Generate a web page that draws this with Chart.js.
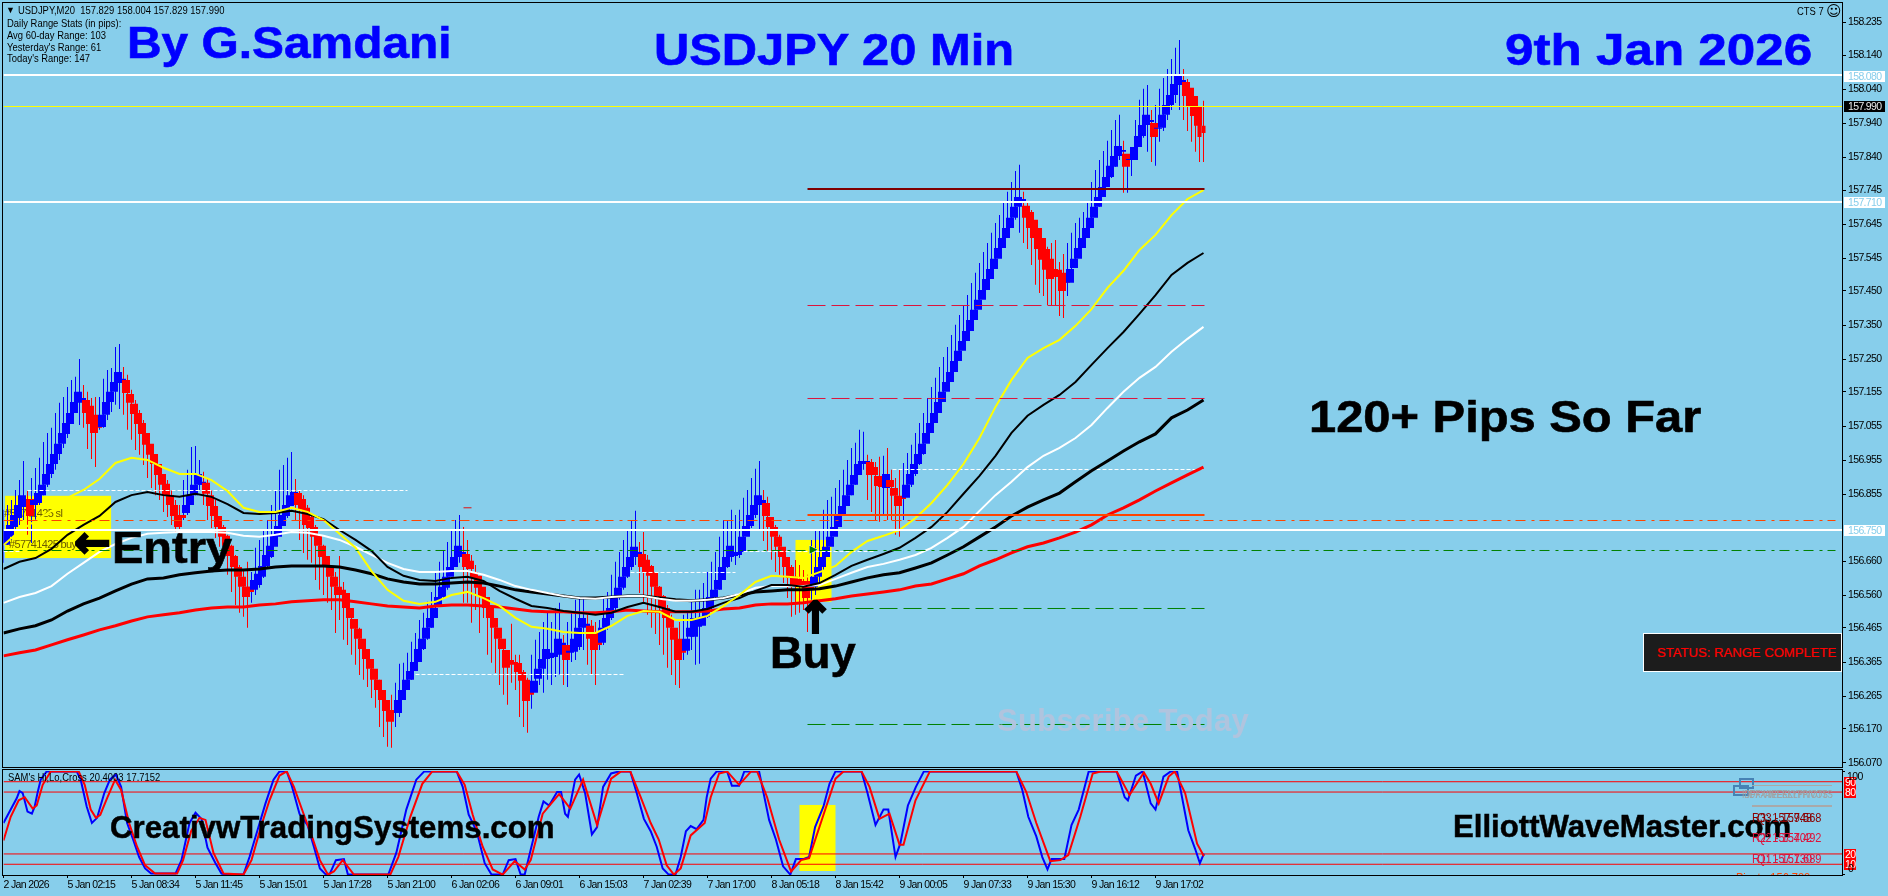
<!DOCTYPE html>
<html>
<head>
<meta charset="utf-8">
<title>USDJPY 20 Min</title>
<script src="https://cdn.jsdelivr.net/npm/chart.js@4/dist/chart.umd.min.js"></script>
<style>
  html, body { margin: 0; padding: 0; background: #87ceeb; }
  #page { position: relative; width: 1888px; height: 896px; overflow: hidden; background: #87ceeb; }
  canvas { position: absolute; left: 0; }
  #mainChart { top: 0; }
  #subChart { top: 768px; }
  .t { position: absolute; white-space: pre; line-height: 1; font-family: "Liberation Sans", Arial, sans-serif; transform-origin: left center; }
  .big { font-weight: 700; font-size: 44px; -webkit-text-stroke: .6px currentColor; }
  .blue { color: #0000ff; }
  .mid { font-weight: 700; font-size: 31px; color: #000; -webkit-text-stroke: .5px currentColor; }
  .small { font-size: 11.5px; color: #000; transform: scaleX(.82); }
  .piv { font-size: 12px; transform: scaleX(.92); }
  .box { position: absolute; box-sizing: border-box; }
</style>
</head>
<body>
<div id="page">
  <canvas id="mainChart" width="1888" height="769"></canvas>
  <canvas id="subChart" width="1888" height="128"></canvas>

  <div class="t small" style="left:6px;top:6px;font-size:9px;transform:none">▼</div>
  <div class="t small" style="left:18px;top:5px">USDJPY,M20  157.829 158.004 157.829 157.990</div>
  <div class="t small" style="left:7px;top:18px">Daily Range Stats (in pips):</div>
  <div class="t small" style="left:7px;top:30px">Avg 60-day Range: 103</div>
  <div class="t small" style="left:7px;top:42px">Yesterday's Range: 61</div>
  <div class="t small" style="left:7px;top:53px">Today's Range: 147</div>
  <div class="t small" style="left:1797px;top:6px">CTS 7</div>
  <div class="t" style="left:1826px;top:4px;font-family:'DejaVu Sans';font-size:15px">☺</div>

  <div class="t big blue" style="left:127px;top:21px;transform:scaleX(1.088)">By G.Samdani</div>
  <div class="t big blue" style="left:654px;top:28px;transform:scaleX(1.11)">USDJPY 20 Min</div>
  <div class="t big blue" style="left:1505px;top:28px;transform:scaleX(1.163)">9th Jan 2026</div>
  <div class="t big" style="left:1309px;top:395px;transform:scaleX(1.11);color:#000">120+ Pips So Far</div>
  <div class="t big" style="left:112px;top:526px;transform:scaleX(1.067);color:#000">Entry</div>
  <div class="t big" style="left:74px;top:520px;color:#000;font-family:'DejaVu Sans';-webkit-text-stroke:2px #000">←</div>
  <div class="t big" style="left:770px;top:631px;transform:scaleX(1.03);color:#000">Buy</div>
  <div class="t big" style="left:797px;top:596px;color:#000;font-family:'DejaVu Sans';-webkit-text-stroke:2px #000">↑</div>
  <div class="t mid" style="left:997px;top:705px;color:#b0c4de;letter-spacing:.3px;-webkit-text-stroke:0">Subscribe Today</div>

  <div class="box" style="left:1643px;top:633px;width:199px;height:39px;background:#1c1c1c;border:1px solid #fff"></div>
  <div class="t" style="left:1657px;top:646px;font-size:13.1px;color:#ff0000;-webkit-text-stroke:.2px #ff0000">STATUS: RANGE COMPLETE</div>

  <div class="t mid" style="left:110px;top:812px;transform:scaleX(1.008)">CreativwTradingSystems.com</div>
  <div class="t mid" style="left:1453px;top:811px;transform:scaleX(1.005)">ElliottWaveMaster.com</div>
  <div class="t small" style="left:8px;top:772px">SAM's Hi,Lo,Cross 20.4003 17.7152</div>

  <div class="box" style="left:1739px;top:778px;width:15px;height:11px;border:2px solid #4682b4"></div>
  <div class="box" style="left:1733px;top:785px;width:16px;height:11px;border:2px solid #4682b4"></div>
  <div class="box" style="left:1752px;top:785px;width:80px;height:1px;background:#a9a9a9"></div>
  <div class="box" style="left:1752px;top:805px;width:80px;height:2px;background:#a9a9a9"></div>
  <div class="t small" style="left:1742px;top:789px;color:#a0a0a0;transform:scaleX(.72)">IDFX-WEEKLYPIVOTS</div>
  <div class="t small" style="left:1747px;top:789px;color:#a0a0a0;transform:scaleX(.72)">IDFX-WEEKLYPIVOTS</div>
  <div class="t piv" style="left:1752px;top:812px;color:#8b0000">R3: 157.948</div>
  <div class="t piv" style="left:1757px;top:812px;color:#8b0000">Q3 - 157.568</div>
  <div class="t piv" style="left:1752px;top:832px;color:#dc143c">R2: 157.402</div>
  <div class="t piv" style="left:1757px;top:832px;color:#dc143c">Q2 - 157.492</div>
  <div class="t piv" style="left:1752px;top:853px;color:#dc143c">R1: 157.130</div>
  <div class="t piv" style="left:1757px;top:853px;color:#dc143c">Q1 - 157.689</div>
  <div class="box" style="left:1730px;top:871px;width:100px;height:4px;overflow:hidden">
    <div class="t piv" style="left:6px;top:1px;color:#ff4500">Pivot - 156.788</div>
  </div>
</div>

<script>
// price axis labels
const priceTicks = [158.235, 158.140, 158.040, 157.940, 157.840, 157.745, 157.645, 157.545, 157.450, 157.350, 157.250,
  157.155, 157.055, 156.955, 156.855, 156.660, 156.560, 156.465, 156.365, 156.265, 156.170, 156.070];

const timeLabels = ['2 Jan 2026', '5 Jan 02:15', '5 Jan 08:34', '5 Jan 11:45', '5 Jan 15:01', '5 Jan 17:28', '5 Jan 21:00',
  '6 Jan 02:06', '6 Jan 09:01', '6 Jan 15:03', '7 Jan 02:39', '7 Jan 17:00', '8 Jan 05:18', '8 Jan 15:42', '9 Jan 00:05',
  '9 Jan 07:33', '9 Jan 15:30', '9 Jan 16:12', '9 Jan 17:02'];

// candles, one entry per 20 min bar
const barOpen = [
  156.708,156.731,156.760,156.786,156.818,156.821,156.842,156.824,156.830,156.853,
  156.883,156.915,156.944,156.973,157.003,157.032,157.061,157.093,157.125,157.123,
  157.131,157.114,157.088,157.061,157.052,157.088,157.125,157.155,157.184,157.181,
  157.190,157.149,157.120,157.093,157.064,157.035,157.003,156.973,156.944,156.915,
  156.886,156.853,156.824,156.792,156.795,156.801,156.824,156.853,156.883,156.883,
  156.889,156.853,156.821,156.792,156.760,156.734,156.705,156.675,156.643,156.614,
  156.585,156.585,156.576,156.590,156.614,156.646,156.672,156.702,156.731,156.763,
  156.792,156.821,156.851,156.859,156.842,156.816,156.789,156.760,156.734,156.705,
  156.675,156.643,156.614,156.585,156.576,156.567,156.523,156.491,156.462,156.433,
  156.403,156.374,156.345,156.313,156.283,156.254,156.222,156.225,156.216,156.254,
  156.283,156.313,156.339,156.365,156.403,156.433,156.465,156.494,156.529,156.555,
  156.582,156.614,156.643,156.672,156.672,156.681,156.661,156.628,156.617,156.585,
  156.555,156.523,156.494,156.465,156.433,156.400,156.371,156.365,156.362,156.336,
  156.313,156.280,156.275,156.316,156.345,156.374,156.377,156.380,156.386,156.415,
  156.415,156.392,156.395,156.409,156.465,156.468,156.471,156.453,156.427,156.421,
  156.465,156.494,156.523,156.555,156.582,156.614,156.643,156.672,156.672,156.681,
  156.664,156.646,156.628,156.585,156.558,156.523,156.494,156.465,156.433,156.403,
  156.398,156.439,156.439,156.468,156.471,156.497,156.523,156.555,156.576,156.605,
  156.643,156.672,156.675,156.678,156.687,156.731,156.763,156.795,156.824,156.824,
  156.830,156.789,156.760,156.731,156.702,156.672,156.643,156.614,156.608,156.602,
  156.602,156.585,156.585,156.614,156.643,156.672,156.702,156.731,156.760,156.792,
  156.821,156.853,156.883,156.912,156.944,156.944,156.950,156.935,156.909,156.880,
  156.874,156.897,156.874,156.851,156.848,156.845,156.883,156.915,156.944,156.973,
  157.003,157.035,157.064,157.093,157.125,157.155,157.184,157.213,157.245,157.275,
  157.304,157.333,157.365,157.395,157.424,157.453,157.485,157.514,157.544,157.576,
  157.605,157.634,157.664,157.696,157.707,157.699,157.681,157.658,157.634,157.605,
  157.573,157.544,157.514,157.512,157.503,157.476,157.474,157.517,157.544,157.576,
  157.605,157.634,157.664,157.696,157.725,157.754,157.783,157.813,157.845,157.857,
  157.851,157.833,157.833,157.871,157.903,157.935,157.944,157.941,157.924,157.927,
  157.965,157.994,158.023,158.055,158.052,158.061,158.044,158.020,157.991,157.962,
  157.933];

const barClose = [
  156.751,156.766,156.795,156.824,156.853,156.839,156.792,156.839,156.859,156.883,
  156.915,156.944,156.973,157.003,157.035,157.064,157.093,157.125,157.155,157.137,
  157.093,157.061,157.035,157.050,157.088,157.125,157.155,157.184,157.213,157.193,
  157.152,157.123,157.090,157.061,157.032,157.000,156.971,156.944,156.912,156.883,
  156.851,156.824,156.792,156.760,156.786,156.824,156.853,156.883,156.915,156.892,
  156.857,156.821,156.792,156.760,156.731,156.705,156.675,156.643,156.614,156.585,
  156.555,156.570,156.605,156.623,156.646,156.678,156.705,156.734,156.763,156.795,
  156.824,156.853,156.862,156.824,156.810,156.766,156.757,156.731,156.705,156.672,
  156.643,156.614,156.585,156.561,156.561,156.523,156.494,156.462,156.433,156.403,
  156.374,156.345,156.313,156.283,156.254,156.222,156.190,156.216,156.254,156.283,
  156.313,156.339,156.365,156.403,156.433,156.465,156.494,156.523,156.555,156.585,
  156.614,156.643,156.672,156.705,156.687,156.643,156.637,156.611,156.582,156.555,
  156.523,156.494,156.465,156.433,156.403,156.348,156.357,156.362,156.336,156.310,
  156.251,156.269,156.310,156.345,156.374,156.403,156.386,156.392,156.433,156.421,
  156.371,156.398,156.433,156.465,156.494,156.477,156.433,156.400,156.415,156.465,
  156.494,156.523,156.555,156.582,156.614,156.643,156.672,156.702,156.687,156.643,
  156.628,156.617,156.585,156.558,156.523,156.494,156.465,156.430,156.371,156.392,
  156.433,156.465,156.494,156.477,156.497,156.523,156.555,156.576,156.605,156.643,
  156.672,156.705,156.684,156.687,156.731,156.763,156.795,156.824,156.853,156.839,
  156.792,156.760,156.731,156.702,156.672,156.643,156.611,156.590,156.590,156.587,
  156.552,156.579,156.614,156.643,156.672,156.702,156.731,156.760,156.792,156.821,
  156.853,156.883,156.912,156.944,156.953,156.953,156.912,156.912,156.880,156.877,
  156.915,156.877,156.851,156.821,156.842,156.883,156.915,156.944,156.973,157.003,
  157.035,157.064,157.093,157.125,157.155,157.184,157.213,157.245,157.275,157.304,
  157.333,157.365,157.395,157.424,157.453,157.485,157.514,157.544,157.576,157.605,
  157.634,157.664,157.696,157.725,157.719,157.664,157.634,157.605,157.573,157.541,
  157.512,157.485,157.503,157.491,157.450,157.474,157.514,157.544,157.576,157.605,
  157.634,157.664,157.696,157.725,157.754,157.783,157.816,157.845,157.874,157.862,
  157.813,157.836,157.871,157.903,157.935,157.965,157.950,157.900,157.927,157.965,
  157.994,158.023,158.055,158.079,158.067,158.020,157.991,157.962,157.933,157.900,
  157.912];

const barHigh = [
  156.810,156.824,156.839,156.868,156.897,156.953,156.865,156.903,156.932,156.962,
  157.008,157.035,157.050,157.093,157.123,157.140,157.169,157.190,157.199,157.251,
  157.175,157.155,157.137,157.140,157.140,157.193,157.219,157.225,157.286,157.295,
  157.228,157.205,157.161,157.131,157.102,157.073,157.029,157.000,156.971,156.941,
  156.912,156.897,156.868,156.839,156.824,156.897,156.927,156.994,156.997,156.956,
  156.921,156.903,156.868,156.839,156.780,156.766,156.737,156.708,156.678,156.649,
  156.634,156.658,156.628,156.699,156.722,156.751,156.780,156.824,156.868,156.927,
  156.941,156.962,156.979,156.900,156.868,156.853,156.824,156.795,156.766,156.737,
  156.708,156.669,156.649,156.628,156.675,156.599,156.547,156.517,156.488,156.465,
  156.430,156.400,156.371,156.342,156.313,156.283,156.254,156.269,156.304,156.360,
  156.363,156.392,156.424,156.450,156.488,156.509,156.541,156.570,156.626,156.658,
  156.690,156.716,156.748,156.780,156.795,156.760,156.722,156.678,156.649,156.611,
  156.576,156.547,156.517,156.488,156.453,156.430,156.400,156.477,156.386,156.386,
  156.342,156.319,156.386,156.430,156.453,156.482,156.511,156.482,156.523,156.538,
  156.444,156.482,156.509,156.547,156.552,156.552,156.503,156.488,156.482,156.488,
  156.552,156.570,156.620,156.658,156.687,156.722,156.751,156.780,156.807,156.716,
  156.745,156.678,156.649,156.614,156.587,156.561,156.532,156.503,156.459,156.482,
  156.503,156.509,156.547,156.576,156.576,156.596,156.628,156.658,156.687,156.731,
  156.780,156.780,156.810,156.795,156.810,156.845,156.868,156.903,156.930,156.953,
  156.868,156.848,156.786,156.766,156.737,156.699,156.669,156.649,156.663,156.649,
  156.634,156.620,156.722,156.751,156.751,156.810,156.839,156.848,156.874,156.897,
  156.927,156.956,156.991,157.006,157.044,157.038,156.971,156.959,156.950,156.965,
  156.968,156.991,156.927,156.903,156.927,156.947,156.976,157.000,157.035,157.064,
  157.093,157.137,157.169,157.196,157.228,157.257,157.286,157.321,157.351,157.380,
  157.409,157.438,157.473,157.503,157.532,157.564,157.590,157.620,157.649,157.672,
  157.710,157.740,157.769,157.801,157.819,157.740,157.707,157.687,157.652,157.628,
  157.590,157.579,157.590,157.599,157.535,157.558,157.590,157.620,157.649,157.664,
  157.681,157.707,157.769,157.804,157.833,157.859,157.889,157.921,157.950,157.965,
  157.889,157.840,157.871,157.950,158.009,158.041,158.052,157.979,157.994,158.041,
  158.073,158.099,158.128,158.161,158.184,158.099,158.070,158.041,158.009,157.979,
  158.006];

const barLow = [
  156.655,156.707,156.722,156.751,156.766,156.780,156.737,156.713,156.780,156.824,
  156.853,156.877,156.903,156.927,156.956,156.991,157.020,157.061,157.096,157.058,
  157.050,156.988,156.959,156.935,157.044,157.050,157.073,157.096,157.117,157.105,
  157.088,157.044,157.015,156.985,156.971,156.941,156.903,156.874,156.853,156.839,
  156.804,156.789,156.766,156.743,156.731,156.780,156.795,156.824,156.853,156.868,
  156.824,156.780,156.757,156.728,156.702,156.678,156.620,156.570,156.532,156.509,
  156.497,156.465,156.538,156.561,156.582,156.611,156.640,156.669,156.708,156.737,
  156.766,156.786,156.824,156.780,156.722,156.684,156.664,156.655,156.605,156.576,
  156.561,156.538,156.517,156.450,156.488,156.430,156.415,156.386,156.357,156.327,
  156.313,156.292,156.260,156.231,156.175,156.146,156.117,156.114,156.175,156.204,
  156.266,156.283,156.313,156.342,156.377,156.400,156.430,156.465,156.503,156.532,
  156.552,156.576,156.620,156.649,156.655,156.538,156.538,156.480,156.517,156.450,
  156.494,156.386,156.363,156.333,156.298,156.269,156.240,156.304,156.283,156.204,
  156.175,156.158,156.228,156.278,156.298,156.275,156.313,156.298,156.321,156.327,
  156.298,156.292,156.365,156.371,156.400,156.400,156.357,156.327,156.298,156.400,
  156.415,156.459,156.488,156.517,156.547,156.576,156.611,156.634,156.649,156.567,
  156.538,156.503,156.465,156.447,156.415,156.386,156.348,156.327,156.298,156.289,
  156.371,156.386,156.400,156.357,156.360,156.474,156.494,156.517,156.552,156.576,
  156.605,156.640,156.658,156.649,156.669,156.708,156.737,156.757,156.786,156.748,
  156.719,156.690,156.664,156.628,156.620,156.596,156.552,156.497,156.503,156.509,
  156.517,156.453,156.547,156.561,156.590,156.634,156.672,156.708,156.737,156.766,
  156.795,156.824,156.853,156.883,156.912,156.927,156.839,156.804,156.780,156.775,
  156.795,156.780,156.780,156.737,156.731,156.780,156.853,156.877,156.909,156.941,
  156.971,157.015,157.044,157.073,157.102,157.131,157.161,157.190,157.219,157.254,
  157.278,157.307,157.336,157.371,157.400,157.430,157.459,157.488,157.517,157.547,
  157.579,157.608,157.643,157.658,157.620,157.590,157.573,157.526,157.468,157.444,
  157.435,157.409,157.406,157.409,157.377,157.371,157.435,157.491,157.517,157.547,
  157.576,157.608,157.637,157.666,157.696,157.725,157.757,157.780,157.813,157.833,
  157.737,157.737,157.786,157.854,157.871,157.898,157.857,157.827,157.816,157.886,
  157.918,157.950,157.979,158.000,157.979,157.950,157.918,157.886,157.857,157.827,
  157.827];

// moving averages, one reading every 4 bars
const maStep = 4;
const maYellow = [
  156.707,156.748,156.778,156.807,156.845,156.868,156.900,156.947,156.962,156.956,
  156.933,156.915,156.915,156.897,156.865,156.816,156.804,156.804,156.816,156.804,
  156.780,156.740,156.699,156.631,156.576,156.544,156.535,156.541,156.561,156.570,
  156.552,156.529,156.494,156.468,156.462,156.453,156.450,156.450,156.471,156.500,
  156.514,156.512,156.488,156.488,156.500,156.529,156.561,156.599,156.617,156.614,
  156.611,156.628,156.646,156.687,156.719,156.734,156.751,156.786,156.830,156.883,
  156.944,157.020,157.111,157.190,157.254,157.283,157.307,157.348,157.397,157.459,
  157.509,157.570,157.614,157.672,157.719,157.745];
const maThinBlack = [
  156.637,156.658,156.669,156.696,156.737,156.766,156.792,156.833,156.853,156.862,
  156.853,156.848,156.857,156.848,156.827,156.801,156.798,156.801,156.807,156.798,
  156.783,156.751,156.722,156.690,156.643,156.617,156.605,156.602,156.611,156.614,
  156.602,156.573,156.550,156.529,156.523,156.514,156.509,156.503,156.509,156.526,
  156.538,156.526,156.512,156.512,156.520,156.538,156.552,156.573,156.590,156.590,
  156.585,156.596,156.620,156.646,156.664,156.681,156.699,156.728,156.760,156.804,
  156.857,156.909,156.968,157.035,157.085,157.117,157.146,157.184,157.234,157.283,
  157.330,157.383,157.438,157.497,157.532,157.561];
const maWhite = [
  156.538,156.555,156.567,156.587,156.623,156.655,156.687,156.710,156.728,156.740,
  156.743,156.745,156.745,156.745,156.743,156.734,156.731,156.737,156.745,156.743,
  156.734,156.722,156.702,156.678,156.655,156.637,156.628,156.628,156.631,156.631,
  156.620,156.605,156.587,156.576,156.567,156.558,156.552,156.550,156.555,156.558,
  156.558,156.550,156.544,156.544,156.547,156.552,156.564,156.582,156.587,156.587,
  156.587,156.590,156.608,156.626,156.643,156.652,156.664,156.678,156.699,156.728,
  156.760,156.807,156.853,156.892,156.935,156.968,156.991,157.020,157.058,157.108,
  157.155,157.196,157.228,157.272,157.310,157.345];
const maThickBlack = [
  156.450,156.462,156.471,156.488,156.514,156.535,156.552,156.573,156.593,156.608,
  156.611,156.620,156.626,156.631,156.634,156.634,156.637,156.643,156.646,156.646,
  156.646,156.643,156.634,156.623,156.608,156.599,156.593,156.593,156.596,156.599,
  156.596,156.587,156.576,156.570,156.564,156.558,156.552,156.552,156.555,156.558,
  156.558,156.552,156.547,156.544,156.547,156.552,156.561,156.570,156.573,156.576,
  156.576,156.579,156.587,156.599,156.611,156.620,156.626,156.640,156.655,156.678,
  156.702,156.731,156.760,156.792,156.818,156.839,156.859,156.892,156.924,156.953,
  156.982,157.009,157.032,157.079,157.102,157.131];
const maRed = [
  156.383,156.392,156.400,156.415,156.430,156.444,156.459,156.471,156.485,156.497,
  156.503,156.509,156.517,156.523,156.526,156.526,156.532,156.535,156.541,156.544,
  156.547,156.547,156.541,156.535,156.529,156.526,156.523,156.529,156.532,156.532,
  156.529,156.526,156.520,156.514,156.512,156.512,156.509,156.509,156.512,156.517,
  156.514,156.512,156.512,156.512,156.514,156.520,156.523,156.532,156.535,156.535,
  156.538,156.544,156.550,156.558,156.564,156.570,156.576,156.587,156.593,156.608,
  156.623,156.646,156.664,156.684,156.702,156.713,156.728,156.745,156.766,156.795,
  156.816,156.839,156.865,156.889,156.912,156.935];

// horizontal levels
const whiteLevels = [158.0815, 157.7102, 156.7510];
const yellowLevel = 157.9894;
const levelStartBar = 201;
const levelEndBar = 300.25;
const maroonLevel = 157.7482;
const crimsonDashLevels = [157.4075, 157.1356];
const greenDashLevels = [156.5215, 156.1823];
const orangeSolidLevel = 156.7949;
const orangeDashDotLevel = 156.7788;
const greenDashDotLevel = 156.6911;
const dashDotEndBar = 458;
const dottedPrices = [156.9279, 156.8665, 156.6882, 156.6882, 156.6268, 156.3285];
const dottedFromBar = [222.25, 6, 185, 0, 156.75, 103];
const dottedToBar = [300.25, 101, 217.5, 4, 183, 155];
const entryArrowBar = 202.5;
const entryArrowPrice = 156.693;

// yellow highlight rectangles: from bar, to bar, low, high
const mainBoxes = [[0.4, 26.9, 156.669, 156.851], [198, 207, 156.541, 156.722]];
const subBoxes = [[199, 208, 3.5, 67.5]];

// right-hand price tags
const whiteTags = [158.080, 157.710, 156.750];
const blackTag = 157.990;

// oscillator, (bar, value) readings
const blueBars = [0,1.8,3.3,4,4.8,6,7.1,7.8,8.5,9.3,10.8,11.8,18.3,19.3,20.8,22.1,23.4,25.2,26.6,28.1,29.4,30.9,32.4,33.9,35.4,36.9,43,44.5,46.5,48,49.5,51,53,54.5,55.5,60,61.5,63.5,65.5,67.5,69,70.8,72,74,76,77.6,79.1,80.6,81.6,83.1,85.1,86.1,96.2,98.2,100.7,103.2,105.2,113.3,114.8,116.3,118.3,120.3,122,124.8,126.3,128,129.3,130.3,131.8,133.8,135,136.4,138.4,139.4,140.4,141.1,142.9,143.9,145.4,147.1,148.4,149.9,151.9,153.9,156.7,158.3,160.1,161.8,163.3,164.8,166.3,168,169.3,170.6,171.8,173.3,175,175.8,176.8,178.3,180.9,182.1,183.9,185.2,186.9,188.9,191.4,193.1,194.9,196.7,198.1,199.9,201.4,202.9,205,206.5,208,214.5,216,218,220,221.2,223,224.2,226.1,228.1,230.1,233.1,253.2,254.7,256.2,258.2,259.7,261,262,265.2,267,268.8,271.3,272.3,278.3,280.3,281.1,283.1,284.8,286.8,288,290,291.8,293.4,296.2,297.9,299.1,300.1];
const blueVals = [50,63,74,81,79,61,59,66,79,92,100,100,100,92,66,50,55,79,92,97,85,50,34,17,6,1,1,14,50,60,54,26,11,1,0,0,17,43,69,92,100,100,87,59,48,27,6,0,1,14,15,0,0,21,63,92,100,100,85,58,42,11,0,0,14,15,0,0,24,56,71,67,80,80,59,56,92,97,79,39,46,85,98,100,100,79,54,42,27,6,0,0,17,42,47,44,53,75,93,100,100,86,86,100,100,100,53,34,8,0,15,15,17,46,66,88,100,100,79,48,63,63,17,30,67,85,100,100,100,82,56,37,17,5,15,15,48,63,100,100,100,75,72,96,100,69,63,95,100,100,43,25,11,20.4];
const redBars = [0,1.8,3.8,5.3,7.3,8.3,9.8,11.8,13.3,18.8,20.3,21.8,23.1,24.2,25.9,27.9,29.4,31.4,33.4,35.4,37.9,43.4,44.9,46.9,49,50.5,52.5,55,60,62,64.5,66.5,69,70.8,72.6,75.1,77.1,79.1,81.1,82.6,84.8,87.6,96.7,98.7,101.7,104.7,107.2,113.3,115.3,117.3,119.8,122.3,124.8,127.8,130.3,131.8,134.8,138.9,141.7,144.9,148.4,151.9,154.4,156.7,159.3,161.8,163.8,165.8,167.6,169.3,171.8,175.3,176.8,178.9,180.9,183.9,186.9,188.4,190.9,193.9,196.9,199.4,201.4,205,208,210,214.5,216.5,219,221.5,224,225,228,231.6,233.1,253.2,255.7,258.2,261.7,264.2,266.2,269.2,272.3,274.3,278.3,281.5,285.1,286.8,288.8,291.3,292.8,295.4,298.4,300.1];
const redVals = [33,56,72,75,64,67,87,100,100,100,87,63,55,58,74,92,82,50,27,9,1,1,14,42,55,53,21,1,0,14,48,72,96,100,85,58,37,14,0,3,14,0,0,17,56,88,100,100,87,58,27,5,0,13,5,14,59,78,64,92,48,93,100,100,75,50,34,9,0,6,38,50,75,98,100,87,100,100,75,34,3,14,16,58,93,100,100,85,54,59,29,29,72,100,100,100,80,50,13,14,19,56,98,100,100,77,99,88,69,95,100,79,30,17.7];
const oscLevels = [90, 80, 20, 10];

// axis and layout
const tickFont = { family: "'Liberation Sans', sans-serif", size: 10.5 };
const tickSpacing = '-0.65px';
const lastSlot = 459.625;
const lastWideBody = 298;
const BLUE = '#0000ff', RED = '#ff0000';
// hover radius would otherwise make Chart.js pad the plot area
const noPoints = { point: { radius: 0, hoverRadius: 0, hitRadius: 0, borderWidth: 0 } };

const seg = (from, to, price, color, width, dash, order) => ({
  type: 'line',
  data: [{ x: from, y: price }, { x: to, y: price }],
  borderColor: color,
  borderWidth: width,
  borderDash: dash || [],
  order
});

const maLine = (values, color, width) => ({
  type: 'line',
  data: values.map((v, k) => ({ x: k * maStep, y: v })),
  borderColor: color,
  borderWidth: width,
  tension: 0,
  order: 6
});

const candleColor = ctx => (barClose[ctx.dataIndex] >= barOpen[ctx.dataIndex] ? BLUE : RED);

const narrowText = {
  id: 'narrowText',
  beforeDraw(chart) { chart.ctx.letterSpacing = tickSpacing; }
};

const boxPlugin = boxes => ({
  id: 'boxes',
  beforeDatasetsDraw(chart) {
    const { ctx, scales: { x, y } } = chart;
    ctx.save();
    ctx.fillStyle = '#ffff00';
    boxes.forEach(([b0, b1, lo, hi]) => {
      const left = x.getPixelForValue(b0), top = y.getPixelForValue(hi);
      ctx.fillRect(left, top, x.getPixelForValue(b1) - left, y.getPixelForValue(lo) - top);
    });
    ctx.restore();
  }
});

const framePlugin = (top, height) => ({
  id: 'frame',
  afterDraw(chart) {
    const { ctx } = chart;
    ctx.save();
    ctx.strokeStyle = '#000';
    ctx.lineWidth = 1;
    ctx.strokeRect(2.5, top, 1840, height);
    ctx.restore();
  }
});

const orderLabels = {
  id: 'orderLabels',
  beforeDatasetsDraw(chart) {
    const { ctx } = chart;
    ctx.save();
    ctx.fillStyle = '#6b5b00';
    ctx.font = "11px 'Liberation Sans', sans-serif";
    ctx.textBaseline = 'middle';
    ctx.fillText('#57741425 sl', 4, 514);
    ctx.fillText('#57741425 buy', 9, 545);
    ctx.restore();
  }
};

const entryArrow = {
  id: 'entryArrow',
  afterDatasetsDraw(chart) {
    const { ctx, scales: { x, y } } = chart;
    const px = x.getPixelForValue(entryArrowBar), py = y.getPixelForValue(entryArrowPrice);
    ctx.save();
    ctx.fillStyle = '#008000';
    ctx.strokeStyle = '#ffffff';
    ctx.beginPath();
    ctx.moveTo(px - 4, py - 4);
    ctx.lineTo(px + 4, py);
    ctx.lineTo(px - 4, py + 4);
    ctx.closePath();
    ctx.stroke();
    ctx.fill();
    ctx.restore();
  }
};

const priceTags = {
  id: 'priceTags',
  afterDraw(chart) {
    const { ctx, scales: { y } } = chart;
    const tag = (v, bg, fg) => {
      const py = Math.round(y.getPixelForValue(v));
      ctx.fillStyle = bg;
      ctx.fillRect(1844, py - 5, 41, 11);
      ctx.fillStyle = fg;
      ctx.fillText(v.toFixed(3), 1848, py + 1);
    };
    ctx.save();
    ctx.font = `${tickFont.size}px ${tickFont.family}`;
    ctx.textBaseline = 'middle';
    whiteTags.forEach(v => tag(v, '#ffffff', '#87ceeb'));
    tag(blackTag, '#000000', '#e8e8e8');
    ctx.restore();
  }
};

const oscTags = {
  id: 'oscTags',
  afterDraw(chart) {
    const { ctx, scales: { y } } = chart;
    ctx.save();
    ctx.font = `${tickFont.size}px ${tickFont.family}`;
    ctx.textBaseline = 'middle';
    oscLevels.forEach(v => {
      const py = Math.round(y.getPixelForValue(v));
      ctx.fillStyle = RED;
      ctx.fillRect(1844, py - 5, 12, 11);
      ctx.fillStyle = '#ffffff';
      ctx.fillText(String(v), 1845, py + 1);
    });
    ctx.fillStyle = '#000';
    ctx.fillText('100', 1847, y.getPixelForValue(100) + 6);
    ctx.fillText('0', 1848, y.getPixelForValue(0) - 5);
    ctx.restore();
  }
};

new Chart(document.getElementById('mainChart'), {
  type: 'bar',
  data: {
    datasets: [
      // wicks
      {
        data: barHigh.map((h, i) => ({ x: i, y: [barLow[i], h] })),
        backgroundColor: candleColor,
        barThickness: 1,
        grouped: false,
        inflateAmount: 0,
        order: 20
      },
      // bodies
      {
        data: barOpen.slice(0, lastWideBody + 1).map((o, i) => ({ x: i + 0.625, y: [o, barClose[i]] })),
        backgroundColor: candleColor,
        barThickness: 8,
        grouped: false,
        inflateAmount: 0,
        order: 19
      },
      // the newest two bodies have no neighbour to their right
      {
        data: barOpen.slice(lastWideBody + 1).map((o, k) => ({ x: lastWideBody + 1 + k, y: [o, barClose[lastWideBody + 1 + k]] })),
        backgroundColor: RED,
        barThickness: 4,
        grouped: false,
        inflateAmount: 0,
        order: 19
      },
      maLine(maYellow, '#ffff00', 2),
      maLine(maThinBlack, '#000000', 2),
      maLine(maWhite, '#ffffff', 2),
      maLine(maThickBlack, '#000000', 3),
      maLine(maRed, '#ff0000', 3),
      ...dottedPrices.map((p, k) => seg(dottedFromBar[k], dottedToBar[k], p, '#ffffff', 1, [4, 2], 8)),
      seg(115, 117, 156.816, '#e01010', 1, [], 8),
      ...crimsonDashLevels.map(p => seg(levelStartBar, levelEndBar, p, '#dc143c', 1, [18, 6], 4)),
      ...greenDashLevels.map(p => seg(levelStartBar, levelEndBar, p, '#008000', 1, [18, 6], 4)),
      seg(0, dashDotEndBar, orangeDashDotLevel, '#ff4500', 1, [10, 6, 3, 5], 4),
      seg(0, dashDotEndBar, greenDashDotLevel, '#008000', 1, [10, 6, 3, 5], 4),
      seg(levelStartBar, levelEndBar, orangeSolidLevel, '#ff4500', 2, [], 3),
      seg(levelStartBar, levelEndBar, maroonLevel, '#800000', 2, [], 3),
      seg(0, lastSlot, yellowLevel, '#ffff00', 1, [], 2),
      ...whiteLevels.map(p => seg(0, lastSlot, p, '#ffffff', 2, [], 1))
    ]
  },
  options: {
    responsive: false,
    animation: false,
    devicePixelRatio: 1,
    elements: noPoints,
    layout: { padding: { left: 3.5, top: 2, right: 0, bottom: 2 } },
    plugins: { legend: { display: false }, tooltip: { enabled: false } },
    scales: {
      x: { type: 'linear', display: false, offset: false, min: 0, max: lastSlot, grid: { display: false } },
      y: {
        position: 'right',
        min: 156.058,
        max: 158.295,
        afterFit(scale) { scale.width = 46; scale.paddingTop = 0; scale.paddingBottom = 0; },
        afterBuildTicks(scale) { scale.ticks = priceTicks.map(value => ({ value })); },
        grid: { drawOnChartArea: false, color: '#000', tickLength: 4 },
        border: { color: '#000' },
        ticks: {
          autoSkip: false,
          color: '#000',
          padding: 2,
          font: tickFont,
          callback: v => v.toFixed(3)
        }
      }
    }
  },
  plugins: [narrowText, boxPlugin(mainBoxes), orderLabels, entryArrow, framePlugin(2.5, 765), priceTags]
});

new Chart(document.getElementById('subChart'), {
  type: 'line',
  data: {
    datasets: [
      {
        data: redBars.map((b, k) => ({ x: b, y: redVals[k] })),
        borderColor: RED,
        borderWidth: 2,
        order: 1
      },
      {
        data: blueBars.map((b, k) => ({ x: b, y: blueVals[k] })),
        borderColor: BLUE,
        borderWidth: 2,
        order: 2
      },
      ...oscLevels.map(v => seg(0, lastSlot, v, RED, 1, [], 3))
    ]
  },
  options: {
    responsive: false,
    animation: false,
    devicePixelRatio: 1,
    elements: noPoints,
    layout: { padding: { left: 3.5, top: 3, right: 0, bottom: 0 } },
    plugins: { legend: { display: false }, tooltip: { enabled: false } },
    scales: {
      x: {
        type: 'linear',
        min: 0,
        max: lastSlot,
        offset: false,
        afterFit(scale) { scale.height = 21; scale.paddingLeft = 0; scale.paddingRight = 0; },
        afterBuildTicks(scale) { scale.ticks = timeLabels.map((_, k) => ({ value: k * 16 })); },
        grid: { drawOnChartArea: false, color: '#000', tickLength: 3 },
        border: { color: '#000' },
        ticks: {
          autoSkip: false,
          maxRotation: 0,
          minRotation: 0,
          align: 'start',
          color: '#000',
          padding: 1,
          font: tickFont,
          callback: (v, idx) => timeLabels[idx]
        }
      },
      y: {
        position: 'right',
        min: -0.4,
        max: 100.4,
        afterFit(scale) { scale.width = 46; scale.paddingTop = 0; scale.paddingBottom = 0; },
        afterBuildTicks(scale) { scale.ticks = [{ value: 100 }, { value: 0 }]; },
        grid: { drawOnChartArea: false, color: '#000', tickLength: 3 },
        border: { color: '#000' },
        ticks: { display: false }
      }
    }
  },
  plugins: [narrowText, boxPlugin(subBoxes), framePlugin(1.5, 106), oscTags]
});
</script>
</body>
</html>
